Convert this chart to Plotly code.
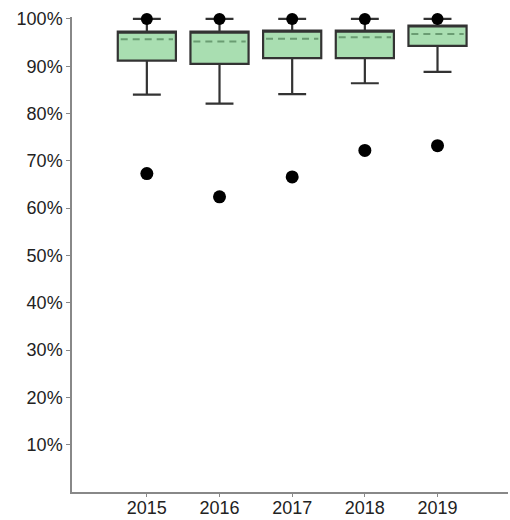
import plotly.graph_objects as go

years = ["2015", "2016", "2017", "2018", "2019"]
q1 = [91.2, 90.5, 91.7, 91.7, 94.3]
q3 = [97.3, 97.3, 97.5, 97.5, 98.6]
mean = [95.7, 95.2, 95.8, 96.1, 96.8]
lower_whisker = [84.0, 82.1, 84.1, 86.4, 88.8]
upper_whisker = [100, 100, 100, 100, 100]
outlier_high = [100, 100, 100, 100, 100]
outlier_low = [67.3, 62.4, 66.6, 72.2, 73.2]
y_ticks = [10, 20, 30, 40, 50, 60, 70, 80, 90, 100]
y_labels = [f"{v}%" for v in y_ticks]

pos = list(range(len(years)))
half = 0.4

fig = go.Figure()
fig.add_trace(go.Box(
    x=pos, q1=q1, median=q3, q3=q3,
    lowerfence=lower_whisker, upperfence=upper_whisker,
    width=0.8, whiskerwidth=0.48,
    fillcolor="#a9deb1", line=dict(color="#333333", width=2.2),
    boxpoints=False, hoverinfo="skip", showlegend=False,
))

# dashed mean lines
mx, my = [], []
for p, m in zip(pos, mean):
    mx += [p - half + 0.04, p + half - 0.04, None]
    my += [m, m, None]
fig.add_trace(go.Scatter(x=mx, y=my, mode="lines",
                         line=dict(color="#6a9c72", width=2, dash="7px,5px"),
                         showlegend=False, hoverinfo="skip"))

fig.add_trace(go.Scatter(x=pos, y=outlier_high, mode="markers",
                         marker=dict(color="black", size=12),
                         cliponaxis=False,
                         showlegend=False, hoverinfo="skip"))
fig.add_trace(go.Scatter(x=pos, y=outlier_low, mode="markers",
                         marker=dict(color="black", size=13),
                         cliponaxis=False,
                         showlegend=False, hoverinfo="skip"))

fig.update_layout(
    width=510, height=520,
    margin=dict(l=72, r=2, t=17, b=28),
    plot_bgcolor="white", paper_bgcolor="white",
    font=dict(family="Liberation Sans, Arial, sans-serif", size=18, color="#222222"),
    showlegend=False,
)
fig.update_xaxes(
    range=[-1.03, 4.97], tickvals=pos, ticktext=years,
    showline=True, linecolor="#888888", linewidth=1.5,
    ticks="outside", ticklen=3, tickcolor="#888888",
    showgrid=False, zeroline=False, tickfont=dict(size=18),
    ticklabelstandoff=-4, automargin=False,
)
fig.update_yaxes(
    range=[0, 100.4], tickvals=y_ticks, ticktext=y_labels,
    showline=True, linecolor="#888888", linewidth=1.5,
    ticks="outside", ticklen=4, tickcolor="#888888",
    showgrid=False, zeroline=False, automargin=False,
)

fig.write_html("out.html")
